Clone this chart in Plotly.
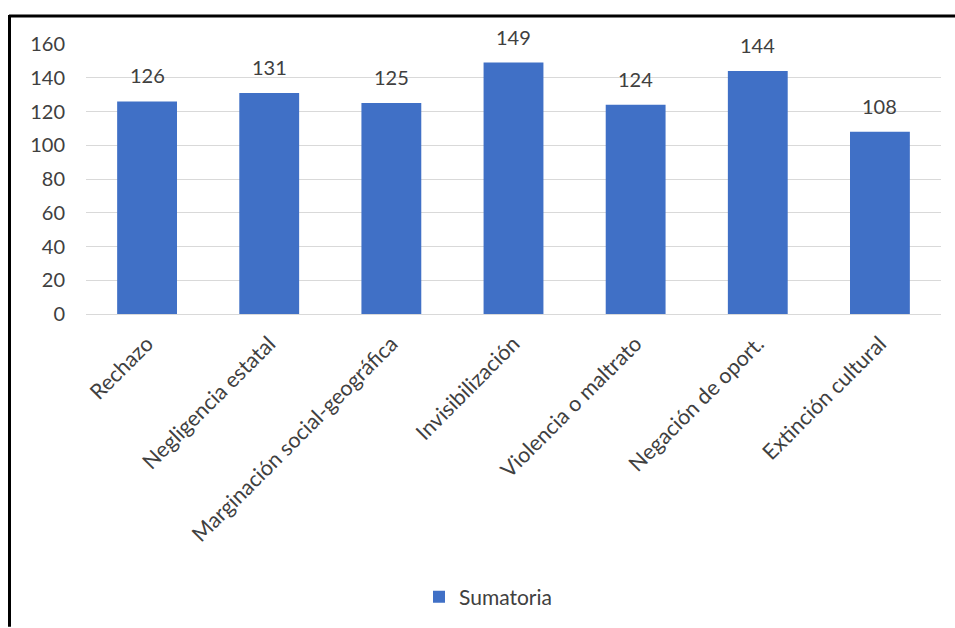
import plotly.graph_objects as go

categories = ["Rechazo", "Negligencia estatal", "Marginación social-geográfica",
              "Invisibilización", "Violencia o maltrato", "Negación de oport.",
              "Extinción cultural"]
values = [126, 131, 125, 149, 124, 144, 108]
series_name = "Sumatoria"
y_ticks = [0, 20, 40, 60, 80, 100, 120, 140, 160]

W, H = 955, 628
L, R, T, B = 86, 14, 44, 313
pw, ph = W - L - R, H - T - B

font_family = "Lato, 'Open Sans', sans-serif"

fig = go.Figure()
fig.add_trace(go.Bar(
    x=categories, y=values, name=series_name,
    marker=dict(color="#4070c6", line=dict(width=0)),
    showlegend=True,
))

for c, v in zip(categories, values):
    fig.add_annotation(x=c, y=v, text=str(v), showarrow=False,
                       yanchor="bottom", yshift=12,
                       font=dict(size=20, color="#404040", family=font_family))

def px_x(p):
    return (p - L) / pw

def px_y(p):
    return (H - B - p) / ph

fig.update_layout(
    width=W, height=H,
    margin=dict(l=L, r=R, t=T, b=B),
    paper_bgcolor="white", plot_bgcolor="white",
    bargap=0.51,
    font=dict(family=font_family, color="#404040"),
    showlegend=True,
    legend=dict(orientation="h", x=px_x(488), xanchor="center",
                y=px_y(597), yanchor="middle",
                font=dict(size=21, color="#404040", family=font_family),
                itemwidth=30),
    xaxis=dict(tickangle=-45, tickfont=dict(size=21.5, color="#404040"),
               showline=False, ticks="", showgrid=False,
               ticklabelstandoff=12),
    yaxis=dict(range=[0, 160], tickvals=y_ticks, showgrid=True,
               gridcolor="#d9d9d9", gridwidth=1, zeroline=True,
               zerolinecolor="#d9d9d9", zerolinewidth=1,
               tickfont=dict(size=20, color="#404040"), ticks="",
               ticklabelstandoff=20),
    shapes=[
        dict(type="line", xref="paper", yref="paper",
             x0=px_x(9), x1=px_x(956), y0=px_y(16), y1=px_y(16),
             line=dict(color="black", width=3)),
        dict(type="line", xref="paper", yref="paper",
             x0=px_x(9.5), x1=px_x(9.5), y0=px_y(15), y1=px_y(629),
             line=dict(color="black", width=3)),
    ],
)

fig.write_html("out.html")
